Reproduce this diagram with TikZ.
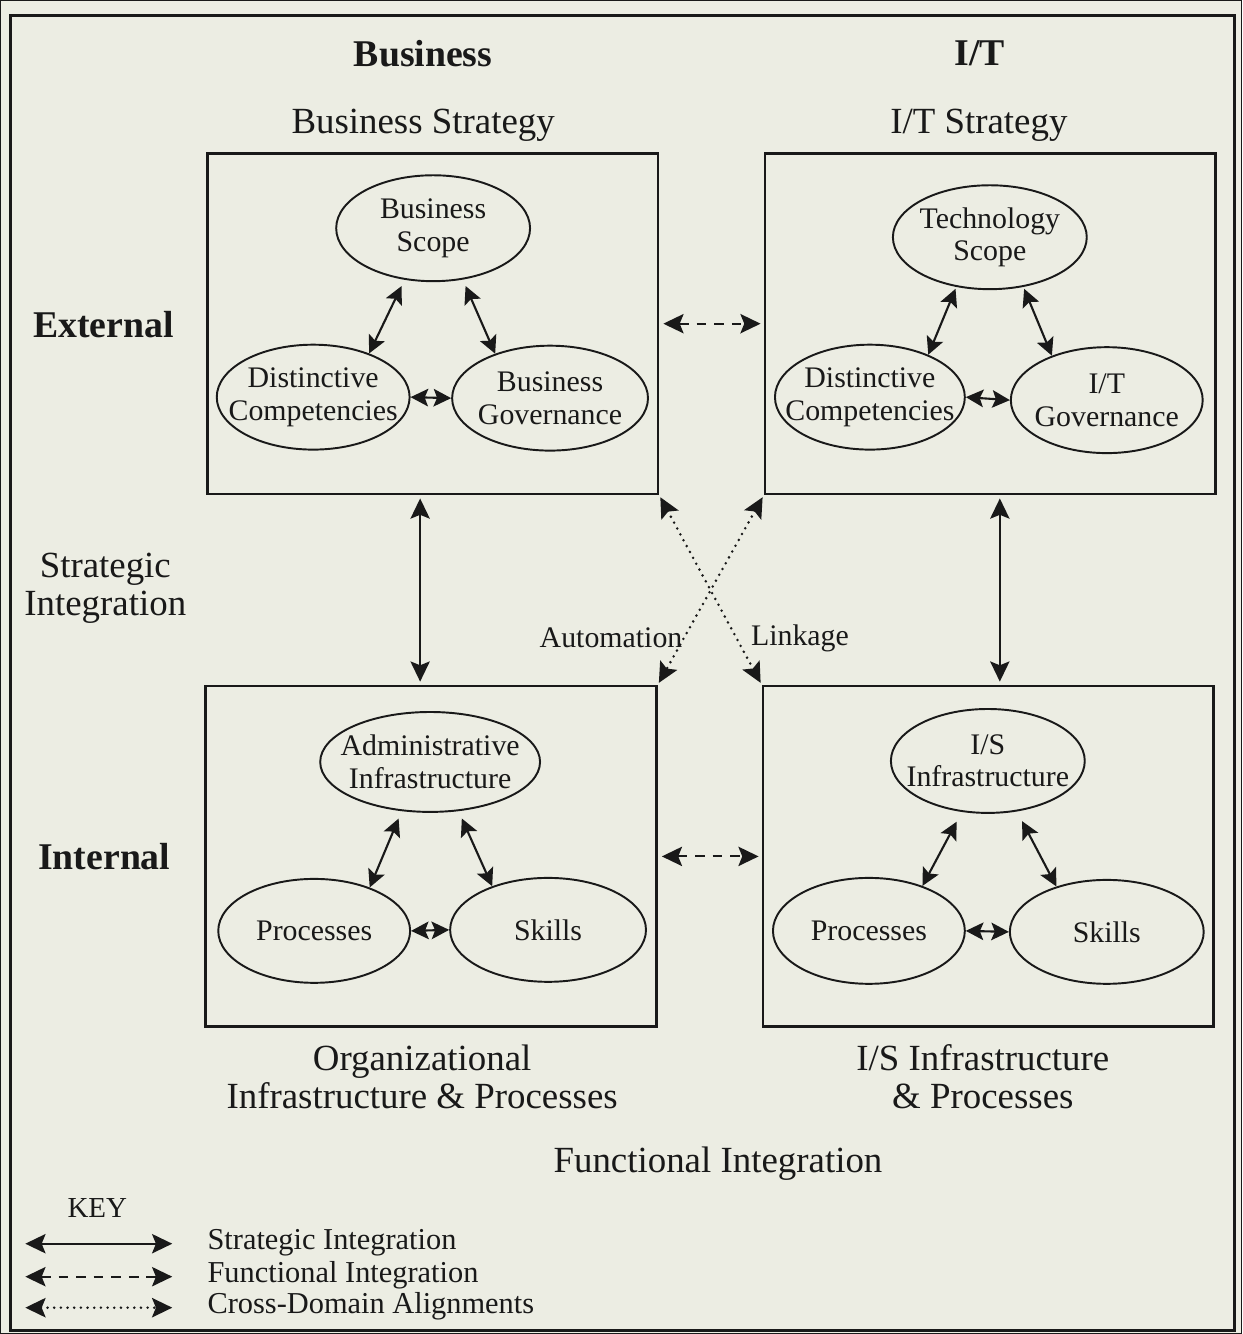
\documentclass[tikz,border=0pt]{standalone}
\usepackage{fontspec}
\setmainfont{Liberation Serif}
\usetikzlibrary{shapes.geometric,arrows.meta}
\definecolor{bgc}{RGB}{236,237,227}
\definecolor{ink}{RGB}{25,25,25}
\begin{document}
\begin{tikzpicture}[x=0.02cm,y=-0.02cm, every path/.style={draw=ink}, text=ink,
  frame/.style={draw=ink, line width=1.6pt, minimum width=9.02cm, minimum height=6.82cm, inner sep=0pt},
  ell/.style={draw=ink, ellipse, line width=1.1pt, inner sep=0pt},
  etxt/.style={font=\fontsize{17}{18.5}\selectfont, align=center, inner sep=0pt},
  head/.style={font=\fontsize{21}{21.5}\selectfont, align=center, inner sep=0pt},
  bhead/.style={font=\fontsize{21.5}{22}\selectfont\bfseries, inner sep=0pt},
  ktxt/.style={font=\fontsize{17.3}{18}\selectfont, anchor=west, inner sep=0pt},
  sarr/.style={{Stealth[length=10pt,width=10pt,inset=2pt]}-{Stealth[length=10pt,width=10pt,inset=2pt]}, line width=1.2pt},
  barr/.style={{Stealth[length=11.5pt,width=11pt,inset=2.2pt]}-{Stealth[length=11.5pt,width=11pt,inset=2.2pt]}, line width=1.2pt},
  fdash/.style={barr, dash pattern=on 5.5pt off 4.5pt},
  xdot/.style={barr, line width=1.6pt, line cap=round, dash pattern=on 0pt off 3.8pt},
]
\fill[bgc, draw=none] (0,0) rectangle (1242,1334);
\useasboundingbox (0,0) rectangle (1242,1334);
\draw[line width=2pt] (10,15) rectangle (1235,1331);

% column / row headings
\node[bhead] (hbus) at (423,53) {Business};
\node[bhead] (hit) at (980,53) {I/T};
\node[head] (hbs) at (423,125) {Business Strategy};
\node[head] (hits) at (979,125) {I/T Strategy};
\node[bhead] (hext) at (103,324) {External};
\node[bhead] (hint) at (104,857) {Internal};
\node[head] (hsi) at (105,588) {Strategic\\Integration};
\node[head] (horg) at (422,1077) {Organizational\\Infrastructure \& Processes};
\node[head] (hisp) at (983,1077) {I/S Infrastructure\\\& Processes};
\node[head] (hfi) at (718,1164) {Functional Integration};

% boxes
\node[frame] (TL) at (432.5,323.5) {};
\node[frame] (TR) at (990.5,323.5) {};
\node[frame] (BL) at (431,856.5) {};
\node[frame] (BR) at (988.5,856.5) {};

% TL ellipses
\node[ell, minimum width=3.88cm, minimum height=2.12cm, label={[etxt]center:Business\\Scope}] (bscope) at (433,228) {};
\node[ell, minimum width=3.86cm, minimum height=2.1cm, label={[etxt]center:Distinctive\\Competencies}] (bdist) at (313,397) {};
\node[ell, minimum width=3.92cm, minimum height=2.1cm, label={[etxt]center:Business\\Governance}] (bgov) at (550,398) {};
\draw[sarr, shorten <=0.14cm] (bscope.241) -- (bdist.38);
\draw[sarr, shorten <=0.14cm] (bscope.300) -- (bgov.141);
\draw[sarr] (bdist.east) -- (bgov.west);

% TR ellipses
\node[ell, minimum width=3.88cm, minimum height=2.08cm, label={[etxt]center:Technology\\Scope}] (tscope) at (990,237) {};
\node[ell, minimum width=3.8cm, minimum height=2.1cm, label={[etxt]center:Distinctive\\Competencies}] (tdist) at (870,397) {};
\node[ell, minimum width=3.84cm, minimum height=2.12cm, label={[etxt]center:I/T\\Governance}] (tgov) at (1107,400) {};
\draw[sarr, shorten <=0.04cm] (tscope.236) -- (tdist.36);
\draw[sarr, shorten <=0.04cm] (tscope.304) -- (tgov.141);
\draw[sarr] (tdist.east) -- (tgov.west);

% BL ellipses
\node[ell, minimum width=4.4cm, minimum height=2cm, label={[etxt]center:Administrative\\Infrastructure}] (badm) at (430,762) {};
\node[ell, minimum width=3.84cm, minimum height=2.08cm, label={[etxt]center:Processes}] (bproc) at (314,931) {};
\node[ell, minimum width=3.92cm, minimum height=2.08cm, label={[etxt]center:Skills}] (bskill) at (548,930) {};
\draw[sarr, shorten <=0.16cm] (badm.240) -- (bproc.38);
\draw[sarr, shorten <=0.16cm] (badm.300) -- (bskill.142);
\draw[sarr] (bproc.east) -- (bskill.west);

% BR ellipses
\node[ell, minimum width=3.88cm, minimum height=2.08cm, label={[etxt]center:I/S\\Infrastructure}] (isinf) at (988,761) {};
\node[ell, minimum width=3.84cm, minimum height=2.12cm, label={[etxt]center:Processes}] (iproc) at (869,931) {};
\node[ell, minimum width=3.88cm, minimum height=2.08cm, label={[etxt]center:Skills}] (iskill) at (1107,932) {};
\draw[sarr, shorten <=0.22cm] (isinf.243) -- (iproc.40);
\draw[sarr, shorten <=0.22cm] (isinf.300) -- (iskill.138);
\draw[sarr] (iproc.east) -- (iskill.west);

% box connectors
\coordinate (v1) at (420,0);
\coordinate (v2) at (1000,0);
\draw[barr, shorten <=0.06cm, shorten >=0.06cm] (TL.south -| v1) -- (BL.north -| v1);
\draw[barr, shorten <=0.06cm, shorten >=0.06cm] (TR.south -| v2) -- (BR.north -| v2);
\draw[fdash, shorten <=0.08cm, shorten >=0.06cm] (TL.east) -- (TR.west);
\draw[fdash, shorten <=0.08cm, shorten >=0.06cm] (BL.east) -- (BR.west);
\draw[xdot, shorten <=0.04cm, shorten >=0.04cm] (TL.south east) -- (BR.north west);
\draw[xdot, shorten <=0.04cm, shorten >=0.04cm] (TR.south west) -- (BL.north east);
\node[etxt] (lauto) at (611,638) {Automation};
\node[etxt] (llink) at (800,638) {Linkage};

% key
\node[font=\fontsize{16.5}{17}\selectfont, inner sep=0pt] (key) at (97,1208) {KEY};
\coordinate (ka1) at (25,1244); \coordinate (kb1) at (172,1244);
\coordinate (ka2) at (25,1277); \coordinate (kb2) at (172,1277);
\coordinate (ka3) at (25,1308); \coordinate (kb3) at (172,1308);
\draw[barr] (ka1) -- (kb1);
\draw[fdash] (ka2) -- (kb2);
\draw[xdot] (ka3) -- (kb3);
\node[ktxt] (k1) at (207,1243) {Strategic Integration};
\node[ktxt] (k2) at (207,1276) {Functional Integration};
\node[ktxt] (k3) at (207,1307) {Cross-Domain Alignments};
\end{tikzpicture}
\end{document}
